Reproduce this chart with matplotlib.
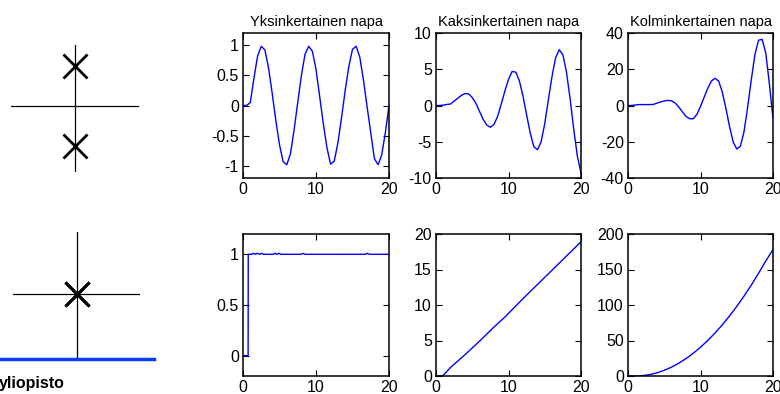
import numpy as np
import matplotlib
matplotlib.use('Agg')
import matplotlib.pyplot as plt
from matplotlib.lines import Line2D

plt.rcParams['font.family'] = ['Liberation Sans', 'DejaVu Sans']

# aika-akseli (0..20, 0.5 välein)
t = [0, 0.5, 1, 1.5, 2, 2.5, 3, 3.5, 4, 4.5, 5, 5.5, 6, 6.5, 7, 7.5, 8, 8.5, 9, 9.5,
     10, 10.5, 11, 11.5, 12, 12.5, 13, 13.5, 14, 14.5, 15, 15.5, 16, 16.5, 17, 17.5,
     18, 18.5, 19, 19.5, 20]

# yksinkertainen napa
y_single = [0, 0, 0.05, 0.45, 0.82, 0.98, 0.92, 0.62, 0.2, -0.25, -0.65, -0.93, -0.98,
            -0.8, -0.4, 0.05, 0.5, 0.85, 0.98, 0.9, 0.6, 0.15, -0.3, -0.7, -0.97,
            -0.92, -0.62, -0.2, 0.25, 0.65, 0.93, 0.98, 0.8, 0.42, -0.02, -0.45, -0.88,
            -0.98, -0.82, -0.45, 0.0]
# kaksinkertainen napa
y_double = [0, 0, 0.05, 0.15, 0.2, 0.6, 1.0, 1.4, 1.65, 1.6, 1.1, 0.3, -0.8, -1.9,
            -2.7, -3.0, -2.6, -1.5, 0.2, 2.0, 3.6, 4.7, 4.6, 3.4, 1.3, -1.3, -3.8,
            -5.7, -6.1, -5.0, -2.5, 0.8, 4.0, 6.6, 7.7, 7.0, 4.6, 0.9, -3.3, -7.0, -9.3]
# kolminkertainen napa
y_triple = [0, 0, 0.3, 0.5, 0.5, 0.5, 0.5, 0.6, 1.3, 2.0, 2.5, 2.8, 2.6, 1.4, -0.8,
            -3.5, -6.0, -7.3, -7.3, -5.0, -0.5, 4.5, 9.5, 13.5, 15.0, 13.5, 7.5, -1.5,
            -11.5, -20.0, -24.0, -22.5, -14.5, -1.0, 14.0, 28.0, 36.0, 36.5, 29.0,
            12.0, -7.0]

# napa origossa: porras, ramppi, paraabeli
t_step = [0, 0.7, 0.72, 1.2, 1.4, 1.7, 1.9, 2.3, 2.5, 2.8, 3.0, 4.2, 4.4, 4.7, 4.9,
          5.2, 8.0, 8.2, 8.5, 16.8, 17.0, 17.3, 20]
y_step = [0, 0, 1.0, 1.0, 1.01, 1.0, 1.01, 1.0, 1.01, 1.0, 1.0, 1.0, 1.01, 1.0,
          1.01, 1.0, 1.0, 1.01, 1.0, 1.0, 1.01, 1.0, 1.0]
t_ramp = [0, 0.5, 1, 2, 4, 6, 8, 9.5, 12, 14, 16, 18, 20]
y_ramp = [0, 0, 0.1, 1.2, 3.0, 4.9, 6.9, 8.3, 10.9, 12.9, 14.9, 16.9, 18.9]
t_par = [0, 1, 2, 3, 4, 5, 6, 7, 8, 9, 10, 11, 12, 13, 14, 15, 16, 17, 18, 19, 20]
y_par = [0, 0, 0.5, 2, 4.5, 8, 12.5, 18, 24.5, 32, 40.5, 50, 60.5, 72, 84.5, 98,
         112.5, 128, 144.5, 162, 178]

titles = ['Yksinkertainen napa', 'Kaksinkertainen napa', 'Kolminkertainen napa']

# napojen paikat (re, im)
poles_top_re = [0, 0]
poles_top_im = [1, -1]
poles_bot_re = [0, 0, 0]
poles_bot_im = [0, 0, 0]

W, H = 780, 394
fig = plt.figure(figsize=(7.8, 3.94), dpi=100)


def px_axes(x0, y0, x1, y1):
    return fig.add_axes([x0 / W, 1 - y1 / H, (x1 - x0) / W, (y1 - y0) / H])


def style(ax, ylim, yticks, yticklabels):
    ax.set_xlim(0, 20)
    ax.set_ylim(*ylim)
    ax.set_xticks([0, 10, 20])
    ax.set_yticks(yticks)
    ax.set_yticklabels(yticklabels)
    ax.tick_params(direction='in', length=4, width=0.8, top=True, right=True,
                   labelsize=11.5, pad=3)
    for s in ax.spines.values():
        s.set_linewidth(1.1)


cols = [(243, 389), (436, 581), (628, 773)]

# ylärivi
top_data = [y_single, y_double, y_triple]
top_lims = [(-1.2, 1.2), (-10, 10), (-40, 40)]
top_ticks = [([-1, -0.5, 0, 0.5, 1], ['-1', '-0.5', '0', '0.5', '1']),
             ([-10, -5, 0, 5, 10], ['-10', '-5', '0', '5', '10']),
             ([-40, -20, 0, 20, 40], ['-40', '-20', '0', '20', '40'])]
for i, (x0, x1) in enumerate(cols):
    ax = px_axes(x0, 33, x1, 178)
    ax.plot(t, top_data[i], color='#0000ff', lw=1.0)
    style(ax, top_lims[i], *top_ticks[i])
    ax.set_title(titles[i], fontsize=10.5, pad=5)

# alarivi
bot_x = [t_step, t_ramp, t_par]
bot_y = [y_step, y_ramp, y_par]
bot_lims = [(-0.2, 1.2), (0, 20), (0, 200)]
bot_ticks = [([0, 0.5, 1], ['0', '0.5', '1']),
             ([0, 5, 10, 15, 20], ['0', '5', '10', '15', '20']),
             ([0, 50, 100, 150, 200], ['0', '50', '100', '150', '200'])]
for i, (x0, x1) in enumerate(cols):
    ax = px_axes(x0, 234, x1, 376)
    ax.plot(bot_x[i], bot_y[i], color='#0000ff', lw=1.0)
    style(ax, bot_lims[i], *bot_ticks[i])

# napakuviot vasemmalla
axp = px_axes(11, 45, 139, 172)
axp.plot([-1, 1], [0, 0], color='black', lw=0.9)
axp.plot([0, 0], [-1.65, 1.52], color='black', lw=0.9)
axp.plot(poles_top_re, poles_top_im, 'x', color='black', ms=17, mew=2)
axp.set_xlim(-1, 1)
axp.set_ylim(-1.65, 1.52)
axp.axis('off')

axq = px_axes(13, 232, 140, 358)
axq.plot([-1, 1], [0, 0], color='black', lw=0.9)
axq.plot([0, 0], [-1.0, 0.98], color='black', lw=0.9)
axq.plot(poles_bot_re, poles_bot_im, 'x', color='black', ms=17, mew=2)
axq.set_xlim(-1, 1)
axq.set_ylim(-1.0, 0.98)
axq.axis('off')

fig.add_artist(Line2D([0, 154 / W], [1 - 359 / H, 1 - 359 / H],
                      transform=fig.transFigure, color='#0a3cff', lw=2.5))
fig.text(-0.002, 1 - 388 / H, 'yliopisto', fontsize=11.5, fontweight='bold',
         ha='left', va='baseline')

fig.savefig('out.png', dpi=100)
